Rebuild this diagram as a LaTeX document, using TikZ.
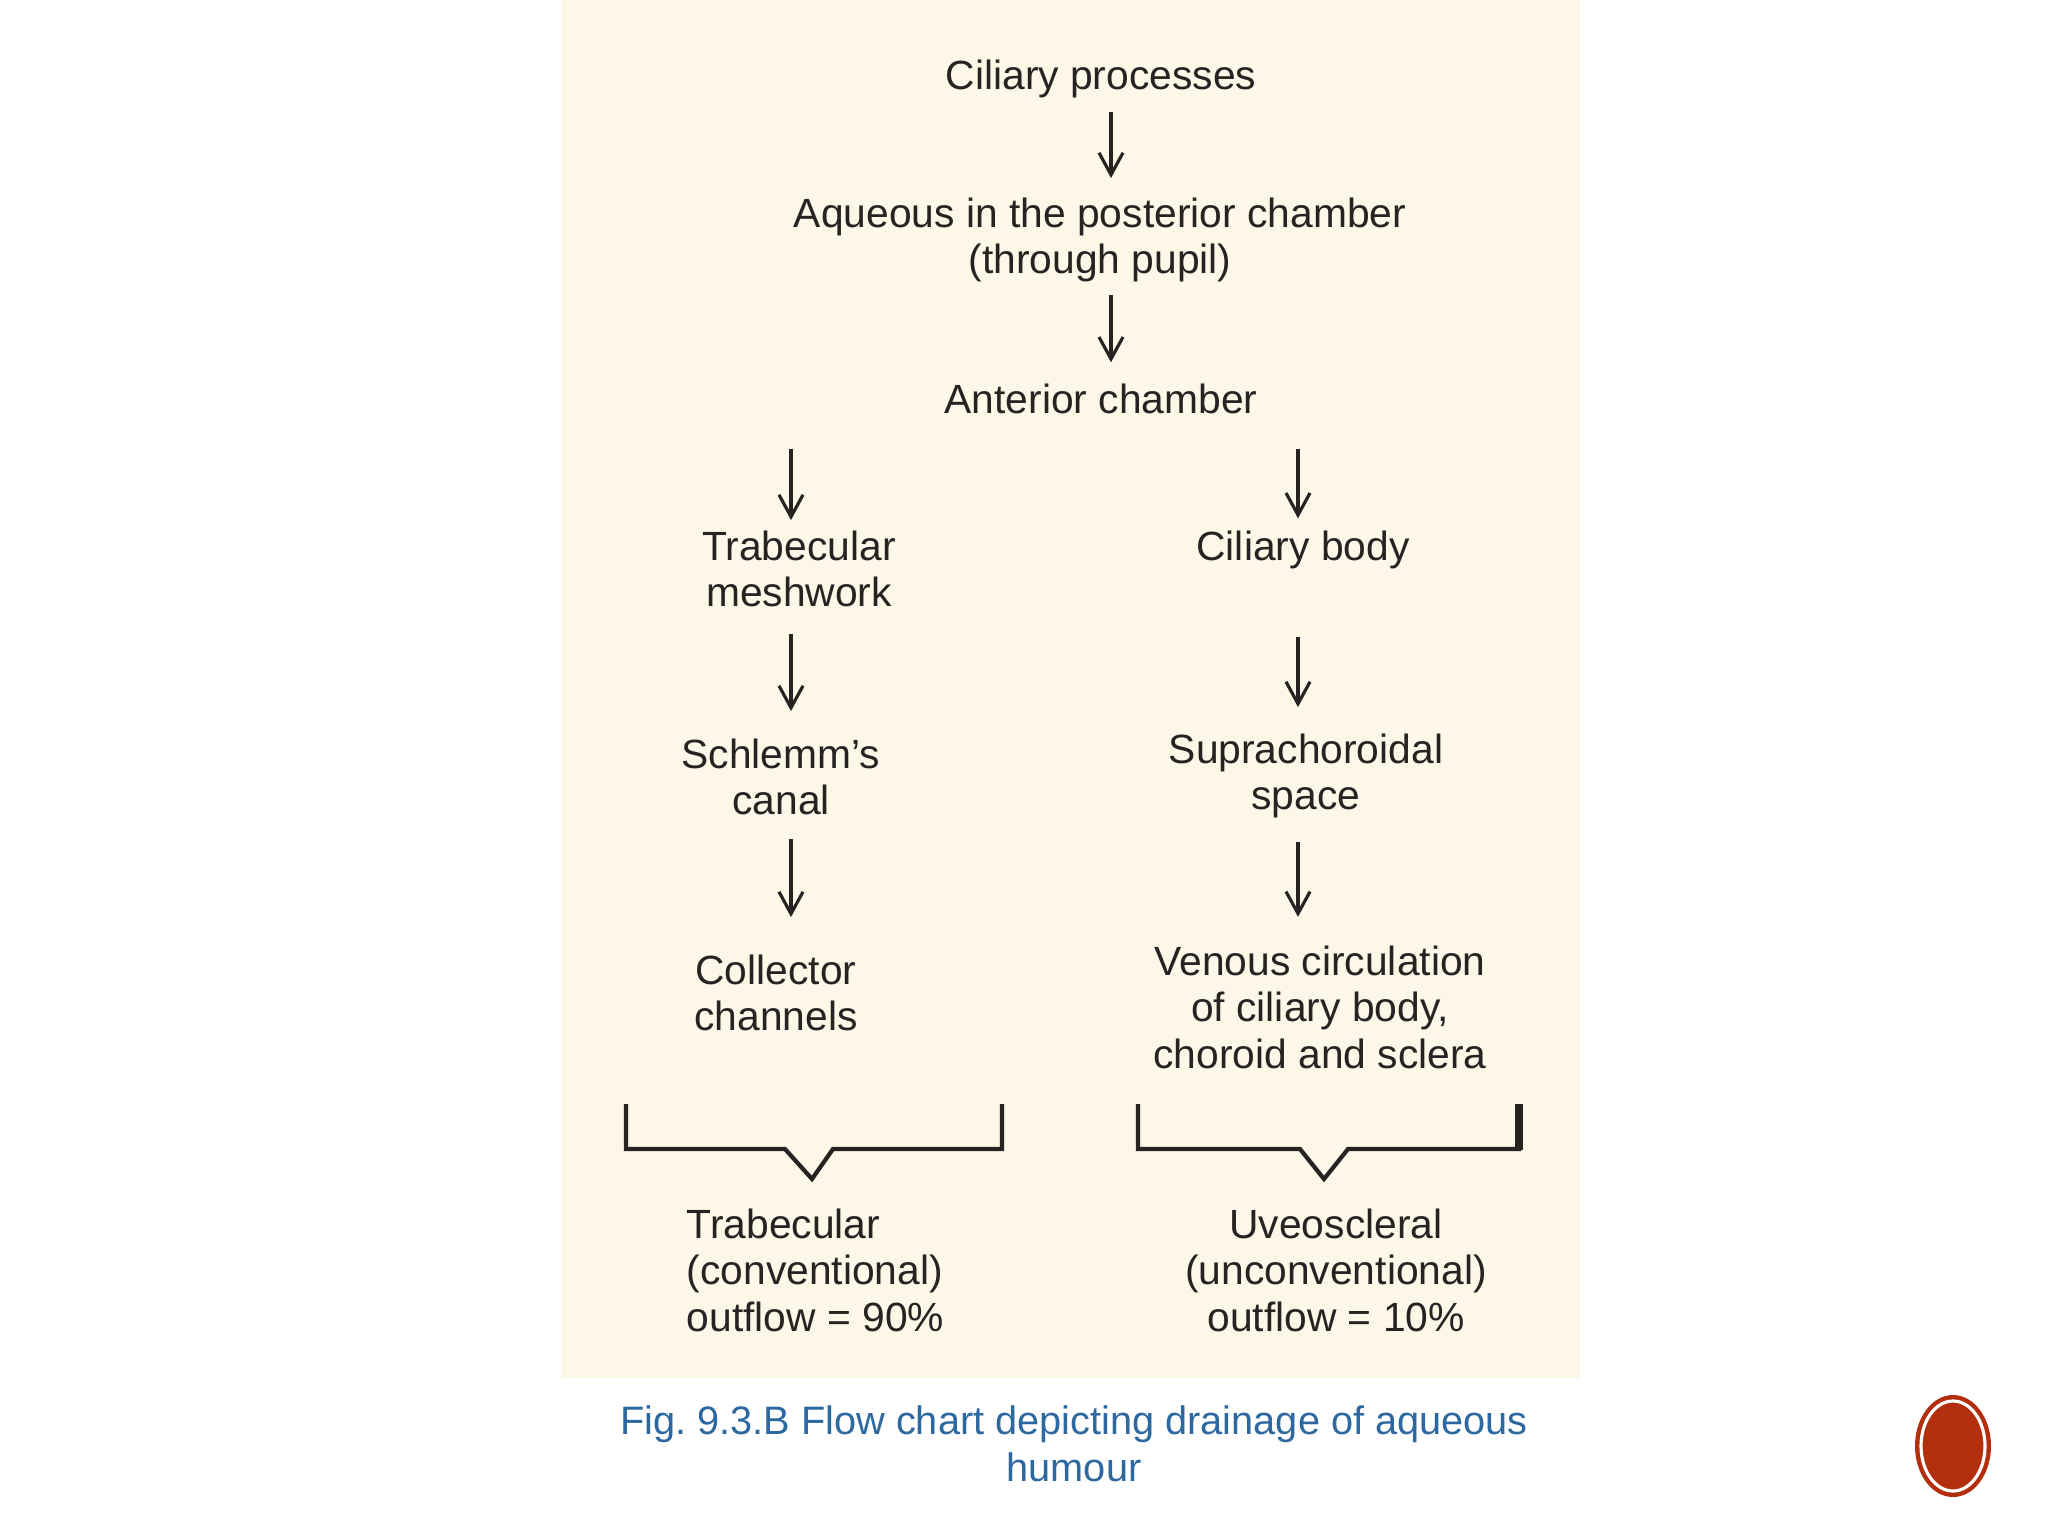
\documentclass[tikz,border=0pt]{standalone}
\usepackage{fontspec}
\setmainfont{Liberation Sans}
\usetikzlibrary{arrows.meta,positioning}
\definecolor{paper}{RGB}{253,247,232}
\definecolor{ink}{RGB}{38,36,34}
\definecolor{capblue}{RGB}{45,105,160}
\definecolor{dotred}{RGB}{178,46,12}
\tikzset{
  txt/.style={inner sep=0pt, align=center, text=ink,
              font=\fontsize{11.6}{13.2}\selectfont},
  figcap/.style={inner sep=0pt, align=center, text=capblue,
                 font=\fontsize{11.3}{13.3}\selectfont},
  flow/.style={-{Straight Barb[length=2.2mm,width=2.4mm]}, line width=0.9pt, draw=ink},
  brace/.style={line width=1.2pt, draw=ink, line join=miter}
}
\begin{document}
\begin{tikzpicture}[x=0.01cm, y=-0.01cm]
  \useasboundingbox (0,0) rectangle (2048,1536);
  \fill[white] (0,0) rectangle (2048,1536);
  \fill[paper] (562,0) rectangle (1580,1378);
  % arrow columns
  \coordinate (mx) at (1111,0);
  \coordinate (lx) at (791,0);
  \coordinate (rx) at (1298,0);
  % main stem
  \node[txt] (cp) at (1101,79) {Ciliary processes};
  \node[txt] (aq) at (1100,240) {Aqueous in the posterior chamber\\(through pupil)};
  \node[txt] (ac) at (1101,399) {Anterior chamber};
  \draw[flow, shorten <=.13cm, shorten >=.19cm] (cp.south -| mx) -- (aq.north -| mx);
  \draw[flow, shorten <=.12cm, shorten >=.21cm] (aq.south -| mx) -- (ac.north -| mx);
  % trabecular route
  \node[txt] (tm) at (799,569) {Trabecular\\meshwork};
  \node[txt] (sc) at (781,777) {Schlemm's\\canal};
  \node[txt] (cc) at (776,993) {Collector\\channels};
  \draw[flow, shorten <=.34cm, shorten >=.1cm] (ac.south -| lx) -- (tm.north -| lx);
  \draw[flow, shorten <=.26cm, shorten >=.27cm] (tm.south -| lx) -- (sc.north -| lx);
  \draw[flow, shorten <=.23cm, shorten >=.37cm] (sc.south -| lx) -- (cc.north -| lx);
  % uveoscleral route
  \node[txt] (cb) at (1303,550) {Ciliary body};
  \node[txt] (ss) at (1306,776) {Suprachoroidal\\space};
  \node[txt] (vc) at (1320,1007) {Venous circulation\\of ciliary body,\\choroid and sclera};
  \draw[flow, shorten <=.34cm, shorten >=.12cm] (ac.south -| rx) -- (cb.north -| rx);
  \draw[flow, shorten <=.67cm, shorten >=.26cm] (cb.south -| rx) -- (ss.north -| rx);
  \draw[flow, shorten <=.23cm, shorten >=.28cm] (ss.south -| rx) -- (vc.north -| rx);
  % brackets
  \draw[brace] (626,1104) |- (785,1149) -- (812,1179) -- (833,1149) -| (1002,1104);
  \draw[brace] (1138,1104) |- (1300,1149) -- (1324,1179) -- (1348,1149) -| (1519,1104);
  \draw[ink, line width=2.4pt] (1519,1104) -- (1519,1150);
  \node[txt, align=left, anchor=west] (tout) at (686,1270) {Trabecular\\(conventional)\\outflow = 90\%};
  \node[txt] (uout) at (1336,1270) {Uveoscleral\\(unconventional)\\outflow = 10\%};
  % caption
  \node[figcap] (fig) at (1074,1444) {Fig.\ 9.3.B Flow chart depicting drainage of aqueous\\humour};
  % slide marker
  \fill[dotred] (1953,1446) ellipse [x radius=38, y radius=51];
  \draw[white, line width=0.9pt] (1953,1446) ellipse [x radius=32, y radius=45];
\end{tikzpicture}
\end{document}
